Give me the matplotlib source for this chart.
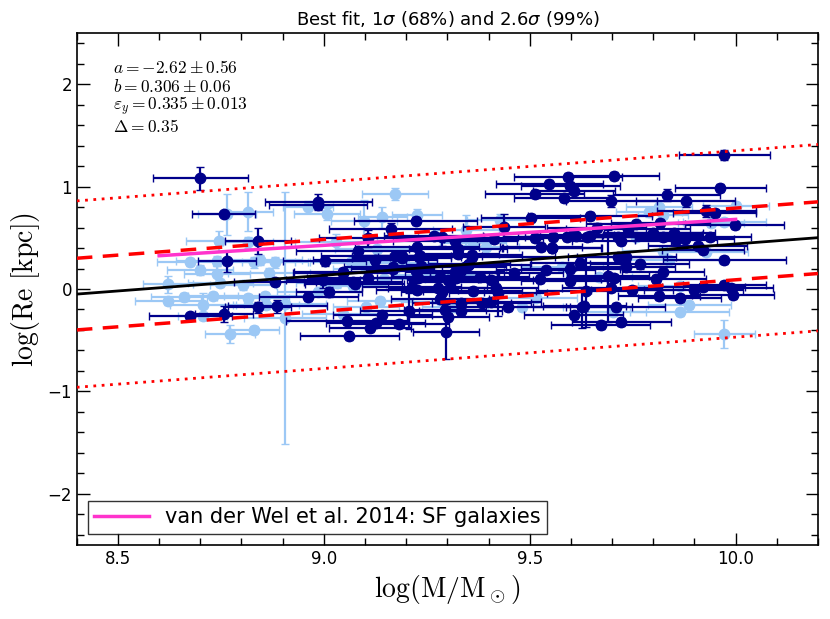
import numpy as np
import matplotlib
matplotlib.use("Agg")
import matplotlib.pyplot as plt
from matplotlib.ticker import MultipleLocator

# Fit parameters (from the text box)
a_fit = -2.62
b_fit = 0.306
delta = 0.35

# van der Wel et al. 2014 relation (end points)
vdw_x = [8.6, 10.0]
vdw_y = [0.325, 0.68]

# Dark blue sample: x, y, xerr, yerr
dark_x = [8.70, 8.757, 8.986, 8.986, 8.84, 8.765, 9.002, 9.046, 8.881, 8.997,
          8.962, 9.013, 8.84, 8.887, 8.676, 8.757, 9.547, 9.512, 9.223, 9.162,
          9.437, 9.502, 9.108, 9.267, 9.288, 9.318, 9.413, 9.512, 9.083, 9.226,
          9.326, 9.528, 9.553, 9.172, 9.189, 9.233, 9.326, 9.361, 9.124, 9.189,
          9.232, 9.361, 9.047, 9.108, 9.167, 9.223, 9.229, 9.282, 9.302, 9.318,
          9.35, 9.379, 9.407, 9.461, 9.524, 9.539, 9.071, 9.213, 9.226, 9.277,
          9.288, 9.362, 9.419, 9.423, 9.142, 9.207, 9.282, 9.294, 9.302, 9.334,
          9.332, 9.383, 9.407, 9.447, 9.057, 9.126, 9.112, 9.183, 9.062, 9.296,
          9.973, 9.704, 9.593, 9.599, 9.607, 9.583, 9.698, 9.833, 9.879, 9.963,
          9.929, 9.949, 9.647, 9.998, 9.663, 9.757, 9.817, 9.739, 9.556, 9.591,
          9.605, 9.638, 9.714, 9.722, 9.799, 9.824, 9.85, 9.856, 9.876, 9.938,
          9.555, 9.908, 9.921, 9.599, 9.623, 9.733, 9.767, 9.824, 9.973, 9.714,
          9.599, 9.69, 9.704, 9.807, 9.636, 9.698, 9.749, 9.898, 9.922, 9.973,
          9.99, 9.993, 9.814, 9.864, 9.628, 9.633, 9.607, 9.709, 9.672, 9.722,
          9.353, 9.342, 9.326, 9.32, 9.306, 9.075, 9.168, 9.237, 9.735, 9.80,
          9.613, 9.646]
dark_y = [1.08, 0.73, 0.85, 0.82, 0.47, 0.27, 0.27, 0.16, 0.065, 0.09,
          -0.075, -0.03, -0.18, -0.17, -0.26, -0.245, 1.024, 0.927, 0.663, 0.59,
          0.61, 0.69, 0.495, 0.517, 0.504, 0.47, 0.485, 0.495, 0.374, 0.413,
          0.387, 0.407, 0.397, 0.32, 0.32, 0.32, 0.34, 0.33, 0.283, 0.30,
          0.315, 0.315, 0.163, 0.11, 0.20, 0.176, 0.104, 0.12, 0.088, 0.169,
          0.234, 0.12, 0.088, 0.153, 0.098, 0.185, 0.065, 0.022, -0.01, 0.007,
          -0.026, -0.02, 0.007, -0.042, -0.254, -0.215, -0.098, -0.205, -0.27, -0.14,
          -0.215, -0.14, -0.124, -0.172, -0.312, -0.335, -0.384, -0.345, -0.456, -0.416,
          1.307, 1.10, 1.09, 1.005, 0.96, 0.885, 0.86, 0.917, 0.86, 0.99,
          0.764, 0.744, 0.712, 0.624, 0.60, 0.634, 0.647, 0.59, 0.51, 0.51,
          0.527, 0.51, 0.51, 0.47, 0.527, 0.51, 0.55, 0.478, 0.485, 0.504,
          0.397, 0.42, 0.38, 0.20, 0.25, 0.218, 0.24, 0.169, 0.283, 0.315,
          0.078, 0.13, 0.11, 0.098, -0.02, 0.013, -0.01, -0.01, 0.022, 0.039,
          0.013, -0.059, -0.065, -0.085, -0.18, -0.17, -0.254, -0.172, -0.35, -0.32,
          0.244, 0.218, 0.153, 0.104, 0.071, 0.05, 0.218, 0.224, 0.315, 0.543,
          0.517, 0.517]
dark_xerr = [0.115, 0.077, 0.13, 0.12, 0.08, 0.07, 0.10, 0.12, 0.10, 0.09,
             0.12, 0.08, 0.08, 0.12, 0.10, 0.07, 0.13, 0.12, 0.15, 0.15,
             0.10, 0.12, 0.12, 0.12, 0.10, 0.15, 0.12, 0.14, 0.15, 0.15,
             0.12, 0.10, 0.12, 0.18, 0.12, 0.15, 0.10, 0.12, 0.15, 0.12,
             0.10, 0.20, 0.12, 0.15, 0.10, 0.12, 0.10, 0.12, 0.10, 0.12,
             0.15, 0.12, 0.10, 0.12, 0.15, 0.12, 0.12, 0.12, 0.10, 0.12,
             0.10, 0.12, 0.10, 0.12, 0.12, 0.12, 0.12, 0.10, 0.10, 0.12,
             0.10, 0.12, 0.12, 0.15, 0.15, 0.12, 0.10, 0.12, 0.12, 0.08,
             0.11, 0.11, 0.13, 0.12, 0.10, 0.12, 0.11, 0.13, 0.12, 0.11,
             0.12, 0.10, 0.15, 0.12, 0.12, 0.12, 0.12, 0.15, 0.12, 0.12,
             0.10, 0.15, 0.12, 0.12, 0.12, 0.12, 0.10, 0.10, 0.12, 0.10,
             0.12, 0.12, 0.10, 0.12, 0.12, 0.12, 0.12, 0.10, 0.15, 0.12,
             0.12, 0.10, 0.10, 0.12, 0.12, 0.12, 0.10, 0.12, 0.10, 0.10,
             0.10, 0.10, 0.10, 0.10, 0.12, 0.10, 0.12, 0.12, 0.12, 0.12,
             0.10, 0.10, 0.10, 0.10, 0.10, 0.12, 0.12, 0.12, 0.12, 0.12,
             0.10, 0.12]
dark_yerr = [0.11, 0.03, 0.08, 0.04, 0.13, 0.10, 0.05, 0.04, 0.04, 0.08,
             0.04, 0.05, 0.05, 0.06, 0.03, 0.08, 0.04, 0.04, 0.04, 0.05,
             0.12, 0.04, 0.08, 0.04, 0.08, 0.04, 0.04, 0.04, 0.04, 0.04,
             0.04, 0.04, 0.04, 0.04, 0.04, 0.04, 0.04, 0.04, 0.04, 0.04,
             0.04, 0.04, 0.04, 0.05, 0.04, 0.04, 0.04, 0.04, 0.04, 0.04,
             0.04, 0.04, 0.04, 0.04, 0.04, 0.04, 0.04, 0.04, 0.04, 0.04,
             0.04, 0.04, 0.04, 0.22, 0.04, 0.18, 0.04, 0.04, 0.04, 0.04,
             0.04, 0.04, 0.04, 0.04, 0.04, 0.04, 0.04, 0.04, 0.04, 0.27,
             0.05, 0.04, 0.04, 0.04, 0.04, 0.04, 0.06, 0.06, 0.06, 0.04,
             0.06, 0.04, 0.04, 0.04, 0.04, 0.04, 0.04, 0.04, 0.04, 0.04,
             0.04, 0.04, 0.04, 0.04, 0.04, 0.04, 0.04, 0.04, 0.04, 0.04,
             0.04, 0.04, 0.04, 0.04, 0.04, 0.04, 0.04, 0.06, 0.04, 0.04,
             0.04, 0.45, 0.04, 0.04, 0.35, 0.04, 0.04, 0.04, 0.04, 0.04,
             0.04, 0.04, 0.04, 0.04, 0.20, 0.04, 0.04, 0.04, 0.04, 0.04,
             0.04, 0.04, 0.04, 0.04, 0.04, 0.04, 0.04, 0.04, 0.04, 0.04,
             0.04, 0.04]

# Light blue sample: x, y, xerr, yerr
light_x = [8.765, 8.816, 8.962, 9.007, 8.746, 8.816, 9.03, 8.676, 8.741, 8.83,
           8.846, 8.881, 8.70, 8.741, 8.867, 8.622, 8.749, 8.803, 9.032, 8.622,
           8.66, 8.731, 8.816, 8.857, 8.986, 8.706, 8.859, 8.905, 8.706, 8.905,
           8.772, 8.83, 9.047, 9.172, 9.097, 9.142, 9.226, 9.346, 9.427, 9.362,
           9.128, 9.393, 9.067, 9.083, 9.102, 9.146, 9.194, 9.269, 9.071, 9.516,
           9.136, 9.102, 9.288, 9.318, 9.482, 9.79, 9.814, 9.824, 10.0, 9.973,
           9.941, 9.757, 9.824, 9.579, 9.839, 9.668, 9.864, 9.888, 9.702, 9.864,
           9.973, 9.929]
light_y = [0.73, 0.755, 0.80, 0.73, 0.47, 0.455, 0.46, 0.26, 0.27, 0.26,
           0.28, 0.26, 0.185, 0.146, 0.16, 0.045, 0.055, 0.04, 0.055, -0.117,
           -0.075, -0.065, -0.09, -0.065, -0.026, -0.16, -0.156, -0.15, -0.26, -0.28,
           -0.44, -0.40, -0.24, 0.927, 0.666, 0.70, 0.72, 0.575, 0.673, 0.446,
           0.387, 0.407, 0.266, 0.257, 0.20, 0.098, 0.257, 0.137, 0.032, -0.085,
           -0.117, -0.172, -0.124, -0.18, -0.172, 0.755, 0.80, 0.72, 0.81, 0.657,
           0.647, 0.504, 0.374, 0.218, 0.283, 0.12, 0.032, -0.156, -0.228, -0.228,
           -0.44, 0.364]
light_xerr = [0.07, 0.06, 0.06, 0.08, 0.08, 0.06, 0.10, 0.08, 0.10, 0.10,
              0.10, 0.08, 0.08, 0.08, 0.10, 0.06, 0.08, 0.08, 0.10, 0.08,
              0.08, 0.06, 0.10, 0.10, 0.10, 0.08, 0.08, 0.10, 0.06, 0.10,
              0.06, 0.06, 0.10, 0.08, 0.08, 0.06, 0.06, 0.08, 0.08, 0.08,
              0.10, 0.08, 0.10, 0.08, 0.08, 0.10, 0.08, 0.10, 0.08, 0.10,
              0.08, 0.08, 0.10, 0.08, 0.10, 0.08, 0.08, 0.06, 0.08, 0.10,
              0.08, 0.10, 0.10, 0.10, 0.12, 0.08, 0.10, 0.10, 0.08, 0.12,
              0.074, 0.10]
light_yerr = [0.20, 0.19, 0.06, 0.06, 0.10, 0.05, 0.08, 0.04, 0.05, 0.05,
              0.05, 0.05, 0.05, 0.08, 0.05, 0.08, 0.04, 0.05, 0.05, 0.04,
              0.04, 0.04, 0.04, 0.04, 0.04, 0.12, 0.04, 0.04, 0.04, 1.23,
              0.09, 0.04, 0.04, 0.06, 0.20, 0.10, 0.06, 0.15, 0.06, 0.04,
              0.04, 0.04, 0.04, 0.04, 0.04, 0.04, 0.04, 0.04, 0.04, 0.04,
              0.04, 0.04, 0.04, 0.04, 0.04, 0.05, 0.06, 0.04, 0.04, 0.04,
              0.04, 0.04, 0.04, 0.04, 0.04, 0.04, 0.04, 0.04, 0.04, 0.04,
              0.14, 0.04]

plt.rcParams['mathtext.fontset'] = 'cm'

fig = plt.figure(figsize=(8.3, 6.19), dpi=100)
ax = fig.add_axes([0.0925, 0.1195, 0.893, 0.8272])

# Data points
ax.errorbar(light_x, light_y, xerr=light_xerr, yerr=light_yerr, fmt='o',
            color='#9cc8f5', ms=7.5, elinewidth=1.6, capsize=3, capthick=1,
            zorder=2)
ax.errorbar(dark_x, dark_y, xerr=dark_xerr, yerr=dark_yerr, fmt='o',
            color='#00008b', ms=7.5, elinewidth=1.6, capsize=3, capthick=1,
            zorder=3)

# Best fit and scatter bands
xf = np.array([8.4, 10.2])
yf = a_fit + b_fit * xf
ax.plot(xf, yf, color='black', lw=2, zorder=5)
ax.plot(xf, yf + delta, color='red', lw=2.5, ls=(0, (4.5, 3)), zorder=5)
ax.plot(xf, yf - delta, color='red', lw=2.5, ls=(0, (4.5, 3)), zorder=5)
ax.plot(xf, yf + 2.6 * delta, color='red', lw=2, ls=(0, (1, 2)), zorder=5)
ax.plot(xf, yf - 2.6 * delta, color='red', lw=2, ls=(0, (1, 2)), zorder=5)

ax.plot(vdw_x, vdw_y, color='#ff33cc', lw=2.5, zorder=6,
        label='van der Wel et al. 2014: SF galaxies')

# Fit results text
ax.text(0.049, 0.932, r'$a=-2.62\pm0.56$', transform=ax.transAxes,
        va='center', fontsize=12.5)
ax.text(0.049, 0.895, r'$b=0.306\pm0.06$', transform=ax.transAxes,
        va='center', fontsize=12.5)
ax.text(0.049, 0.857, r'$\varepsilon_y=0.335\pm0.013$', transform=ax.transAxes,
        va='center', fontsize=12.5)
ax.text(0.049, 0.816, r'$\Delta=0.35$', transform=ax.transAxes,
        va='center', fontsize=12.5)

ax.set_xlim(8.4, 10.2)
ax.set_ylim(-2.5, 2.5)
ax.set_xticks([8.5, 9.0, 9.5, 10.0])
ax.set_yticks([-2, -1, 0, 1, 2])
ax.xaxis.set_minor_locator(MultipleLocator(0.1))
ax.yaxis.set_minor_locator(MultipleLocator(0.2))
ax.tick_params(which='both', direction='in', top=True, right=True, labelsize=12)
ax.tick_params(which='major', length=9, width=1)
ax.tick_params(which='minor', length=5, width=1)
for s in ax.spines.values():
    s.set_linewidth(1.2)

ax.set_xlabel(r'$\mathrm{\log(M/M_\odot)}$', fontsize=20)
ax.set_ylabel(r'$\mathrm{\log(Re\ [kpc])}$', fontsize=20)
ax.set_title(r'Best fit, 1$\sigma$ (68%) and 2.6$\sigma$ (99%)', fontsize=13,
             math_fontfamily='dejavusans', pad=6)

leg = ax.legend(loc='lower left', fontsize=15, fancybox=False,
                edgecolor='black', borderaxespad=0.55, handlelength=2.6,
                borderpad=0.3)
leg.get_frame().set_linewidth(1)

fig.savefig('out.png', dpi=100)
